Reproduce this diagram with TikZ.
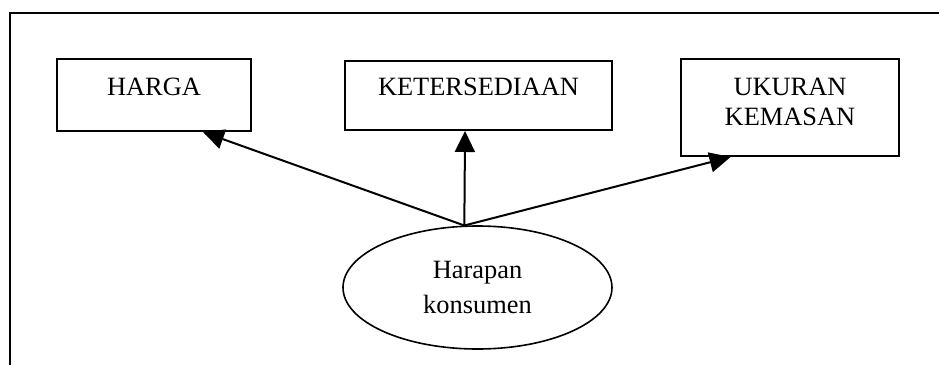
\documentclass[tikz,border=0pt]{standalone}
\usepackage{fontspec}
\setmainfont{Liberation Serif}
\usetikzlibrary{arrows.meta,shapes.geometric,calc}
\begin{document}
\begin{tikzpicture}[x=0.5pt,y=-0.5pt,
  box/.style={draw,line width=1pt,fill=white,inner sep=0pt,
    font=\fontsize{13.2}{15}\selectfont},
  oval/.style={draw,ellipse,line width=0.8pt,inner sep=0pt,
    minimum width=134.5pt,minimum height=61.5pt,align=center,
    font=\fontsize{13.2}{17.3}\selectfont},
  arr/.style={line width=1pt,-{Triangle[length=10.5pt,width=10pt]}},
  frame/.style={line width=1pt}]
\useasboundingbox (0,0) rectangle (939,365);
% outer frame (top and left edges)
\coordinate (f1) at (10,365);
\coordinate (f2) at (10,13);
\coordinate (f3) at (939,13);
\draw[frame] (f1) -- (f2) -- (f3);
% boxes
\node[box,minimum width=97pt,text height=18pt,text depth=18pt] (harga) at (154,95) {HARGA};
\node[box,minimum width=133.5pt,text height=17pt,text depth=17.5pt] (ket) at (478.5,95.5) {KETERSEDIAAN};
\node[box,minimum width=109pt,text height=18pt,text depth=30.5pt] (uk) at (790,107.5)
  {\begin{tabular}[t]{@{}c@{}}UKURAN\\KEMASAN\end{tabular}};
% ellipse
\node[oval] (hk) at (477.5,287.5) {Harapan\\konsumen};
% arrows
\coordinate (src) at (hk.102);
\draw[arr] (src) -- ($(harga.south west)!0.75!(harga.south east)$);
\draw[arr] (src) -- ($(ket.south west)!0.45!(ket.south east)$);
\draw[arr] (src) -- ($(uk.south west)!0.23!(uk.south east)$);
\end{tikzpicture}
\end{document}
